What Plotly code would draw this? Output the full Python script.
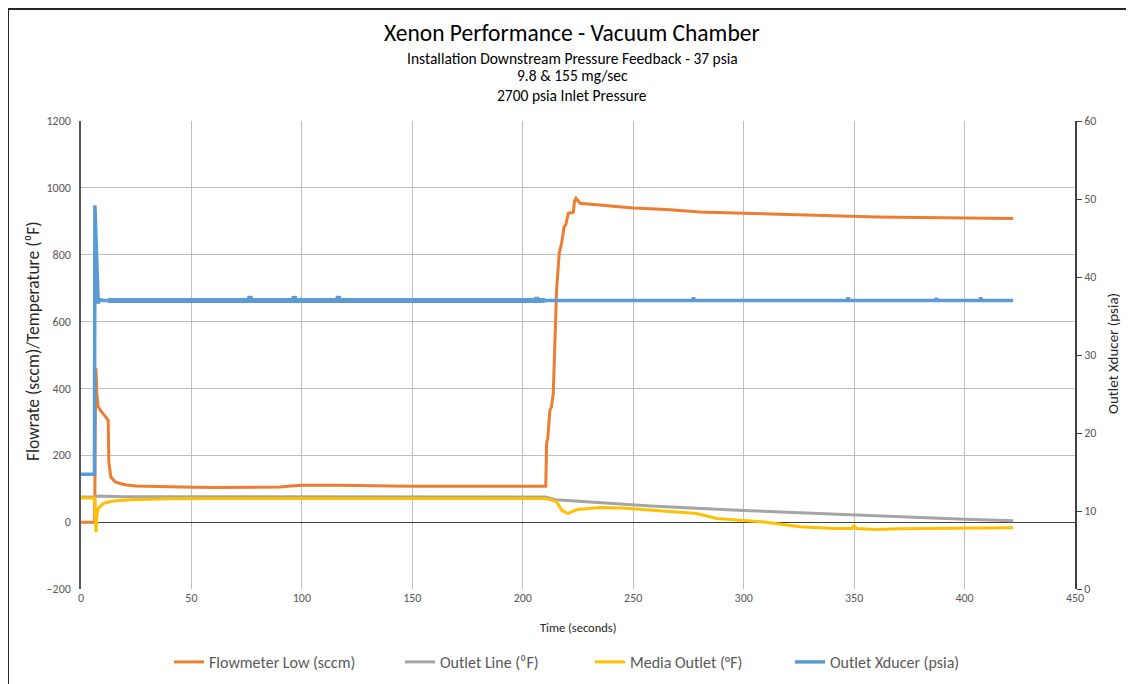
import plotly.graph_objects as go

# ---- data ----
t_flow = [0, 6.2, 6.6, 6.8, 7.2, 7.8, 9, 10.1, 11.5, 12.3, 12.6, 13.5, 15.4, 18, 20.7, 25, 30, 45, 60, 75, 90,
          95, 100, 115, 130, 150, 170, 190, 210.4, 210.8, 211.3, 212.3, 213.0, 213.8, 214.5, 215.3, 216.5,
          217.6, 218.7, 219.5, 220.6, 222.9, 223.4, 224.1, 225.9, 235, 250, 265, 280, 300, 320, 340, 360,
          380, 400, 422]
flow = [0, 0, 440, 460, 380, 345, 333, 325, 312, 305, 180, 135, 121, 115, 111, 108, 107, 105, 104, 104, 105,
        108, 110, 110, 108, 107, 107, 107, 107, 236, 250, 335, 345, 386, 560, 694, 805,
        835, 883, 890, 924, 927, 960, 969, 954, 948, 940, 935, 928, 924, 920, 917, 913,
        911, 909, 908]

t_line = [0, 6, 6.5, 10, 20, 50, 100, 150, 200, 210, 215, 235, 258, 300, 350, 400, 422]
line_temp = [75, 75, 78, 77, 76, 76, 76, 75, 75, 75, 67, 58, 48, 35, 21, 9, 4]

t_media = [0, 6.3, 6.8, 7.2, 7.8, 9, 10.1, 13, 16, 22, 28, 40, 60, 100, 150, 200, 210, 212.3, 215.3, 217.6,
           219, 220.6, 222, 225, 229, 235, 245, 257.6, 265, 272.7, 278.7, 287.8, 295, 299.8, 310, 325.5,
           340.6, 349, 350, 351, 360.2, 370, 385.8, 400, 410, 422]
media = [72, 72, -30, 20, 41, 50, 56, 61, 64, 67, 68, 70, 71, 71, 71, 71, 71, 68, 61, 36,
         30, 26, 31, 38, 41, 44, 42, 36, 34, 31, 26, 11, 7, 4, 0, -14,
         -19, -19, -11, -19, -22, -20, -19, -18, -17, -17]

# Outlet Xducer in three parts: start-up, noisy hold, later hold
t_xd_a = [0, 6.1, 6.3, 6.6, 7.0, 7.4, 7.8, 8.3, 10, 12]
xd_a = [14.7, 14.7, 49.2, 46, 41, 37.5, 36.6, 37.1, 37.0, 37.0]
t_xd_m = [12, 15, 30, 50, 65, 76, 76.5, 77, 96, 96.6, 97, 116, 116.5, 117, 150, 206, 206.3, 206.6, 210]
xd_m = [37.0, 37.0, 37.0, 37.0, 37.0, 37.0, 37.5, 37.0, 37.0, 37.5, 37.0, 37.0, 37.5, 37.0, 37.0, 37.0, 37.4,
        37.0, 37.0]
t_xd_b = [210, 250, 277, 277.3, 277.6, 347, 347.3, 347.6, 387, 387.3, 387.6, 407, 407.3, 407.6, 422]
xd_b = [37.0, 37.0, 37.0, 37.4, 37.0, 37.0, 37.4, 37.0, 37.0, 37.3, 37.0, 37.0, 37.4, 37.0, 37.0]

x_ticks = [0, 50, 100, 150, 200, 250, 300, 350, 400, 450]
y1_ticks = [-200, 0, 200, 400, 600, 800, 1000, 1200]
y2_ticks = [0, 10, 20, 30, 40, 50, 60]

FONT = "Calibri, Carlito, Lato, 'Open Sans', sans-serif"
TICK = "#595959"
BLUE = "#5B9BD5"
GRID = "#BFBFBF"

fig = go.Figure()
fig.add_trace(go.Scatter(x=t_xd_a, y=xd_a, name="Outlet Xducer (psia)", yaxis="y2", mode="lines",
                         line=dict(color=BLUE, width=3.5), legendgroup="xd", showlegend=False))
fig.add_trace(go.Scatter(x=t_xd_m, y=xd_m, name="Outlet Xducer (psia)", yaxis="y2", mode="lines",
                         line=dict(color=BLUE, width=5), legendgroup="xd", showlegend=False))
fig.add_trace(go.Scatter(x=t_xd_b, y=xd_b, name="Outlet Xducer (psia)", yaxis="y2", mode="lines",
                         line=dict(color=BLUE, width=3.5), legendgroup="xd", legendrank=4,
                         legendwidth=130))
fig.add_trace(go.Scatter(x=t_flow, y=flow, name="Flowmeter Low (sccm)", mode="lines",
                         line=dict(color="#ED7D31", width=3), legendrank=1, legendwidth=186))
fig.add_trace(go.Scatter(x=t_line, y=line_temp, name="Outlet Line (\u2070F)", mode="lines",
                         line=dict(color="#A5A5A5", width=3), legendrank=2, legendwidth=145))
fig.add_trace(go.Scatter(x=t_media, y=media, name="Media Outlet (\u00b0F)", mode="lines",
                         line=dict(color="#FFC000", width=3), legendrank=3, legendwidth=155))

def py(ypx):
    return (589 - ypx) / 468.0

def px(xpx):
    return (xpx - 81) / 994.0

ann = [
    dict(text="Xenon Performance - Vacuum Chamber", x=px(572), y=py(33), font=dict(size=23.5, color="#000000")),
    dict(text="Installation Downstream Pressure Feedback - 37 psia", x=px(572), y=py(58), font=dict(size=15.5, color="#000000")),
    dict(text="9.8 &amp; 155 mg/sec", x=px(572), y=py(76), font=dict(size=15.5, color="#000000")),
    dict(text="2700 psia Inlet Pressure", x=px(572), y=py(96), font=dict(size=15.5, color="#000000")),
    dict(text="Time (seconds)", x=px(578), y=py(627), font=dict(size=12.5, color="#262626")),
    dict(text="Flowrate (sccm)/Temperature (\u2070F)", x=px(33), y=py(341), textangle=-90,
         font=dict(size=17.5, color="#262626")),
    dict(text="Outlet Xducer (psia)", x=px(1113), y=py(354), textangle=-90,
         font=dict(size=15, color="#262626")),
]
annotations = []
for a in ann:
    d = dict(xref="paper", yref="paper", showarrow=False, xanchor="center", yanchor="middle")
    d.update(a)
    d["font"] = dict(family=FONT, **a["font"])
    annotations.append(d)

frame = dict(color="#262626", width=2)
shapes = [
    dict(type="line", xref="paper", yref="paper", x0=px(8), x1=px(8), y0=py(9), y1=py(700), line=frame),
    dict(type="line", xref="paper", yref="paper", x0=px(8), x1=px(1128), y0=py(9), y1=py(9), line=frame),
    dict(type="line", xref="paper", yref="paper", x0=px(1128), x1=px(1128), y0=py(9), y1=py(700), line=frame),
]

fig.update_layout(
    width=1134, height=684,
    margin=dict(l=73, r=67, t=113, b=103),
    paper_bgcolor="white", plot_bgcolor="white",
    font=dict(family=FONT, size=12, color=TICK),
    showlegend=True,
    legend=dict(orientation="h", x=px(169), xanchor="left", y=py(662), yanchor="middle",
                font=dict(family=FONT, size=16, color=TICK), itemwidth=30, traceorder="normal"),
    xaxis=dict(range=[0, 450], tickvals=x_ticks, showgrid=True, gridcolor=GRID, gridwidth=1,
               zeroline=False, showline=False, ticks="", tickfont=dict(size=12, color=TICK)),
    yaxis=dict(range=[-200, 1200], tickvals=y1_ticks, showgrid=True, gridcolor=GRID, gridwidth=1,
               zeroline=True, zerolinecolor="#404040", zerolinewidth=1,
               showline=True, linecolor="#595959", linewidth=1.5, ticks="",
               tickfont=dict(size=12, color=TICK), ticklabelstandoff=6),
    yaxis2=dict(range=[0, 60], tickvals=y2_ticks, overlaying="y", side="right", showgrid=False,
                zeroline=False, showline=True, linecolor="#404040", linewidth=1.5,
                ticks="outside", ticklen=5, tickcolor="#404040", tickfont=dict(size=12, color=TICK)),
    annotations=annotations,
    shapes=shapes,
)

fig.write_html("out.html")
